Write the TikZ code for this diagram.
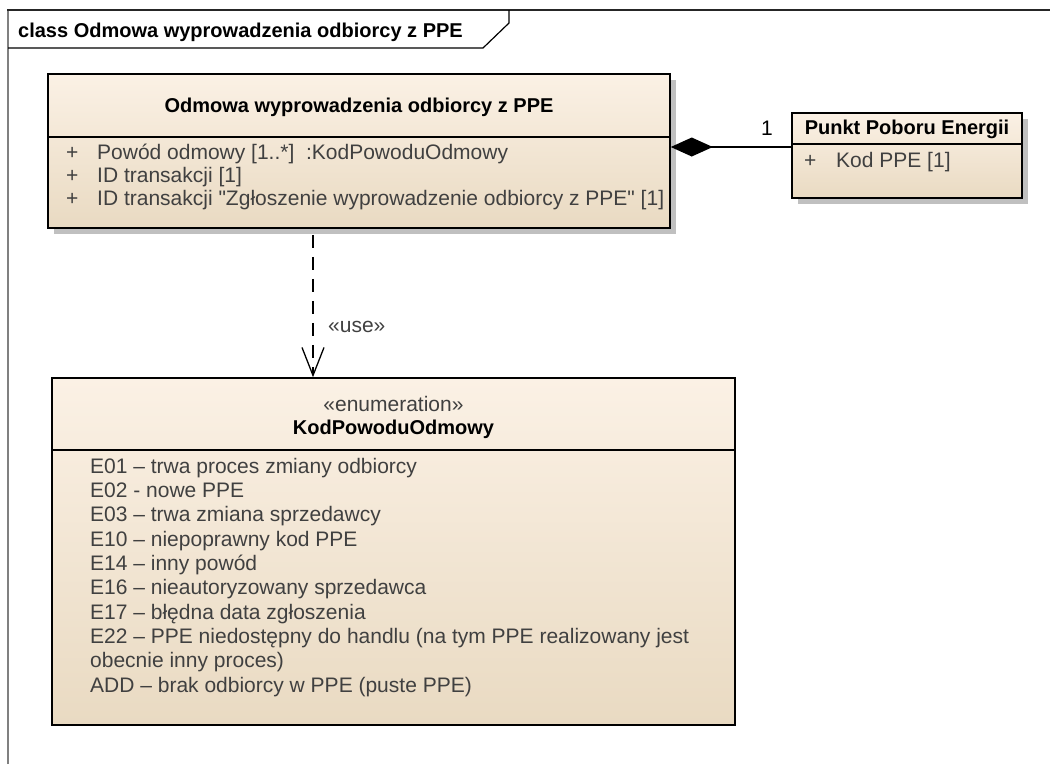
\documentclass[tikz,border=0pt]{standalone}
\usepackage{fontspec}
\setmainfont{Liberation Sans}
\usetikzlibrary{arrows.meta,shadows,calc}
\definecolor{boxtop}{RGB}{251,241,229}
\definecolor{boxbot}{RGB}{233,218,194}
\definecolor{txtgray}{RGB}{64,64,64}
\definecolor{shadowgray}{RGB}{192,192,192}
\newcommand\attrfont{\fontsize{21}{23}\selectfont}
\newcommand\namefont{\fontsize{20}{23}\selectfont\bfseries}

\begin{document}
\begin{tikzpicture}[x=1pt,y=-1pt,
  classbox/.style={draw=black,line width=1.5pt,top color=boxtop,bottom color=boxbot,inner sep=0pt},
  shadowed/.style={drop shadow={shadow xshift=6pt,shadow yshift=-6pt,fill=shadowgray,opacity=1}},
  sepline/.style={line width=1.2pt},
  attr/.style={anchor=base west,inner sep=0pt,text=txtgray,font=\attrfont},
  title/.style={inner sep=0pt,text=black,font=\namefont},
  comp/.style={line width=1.5pt,-{Diamond[length=42pt,width=19pt,fill=black]}},
  dep/.style={line width=1.3pt,dash pattern=on 13pt off 9pt,-{Straight Barb[length=28pt,width=22pt]}}]
\useasboundingbox (0,0) rectangle (1050,764);

% frame
\draw[gray,line width=2pt] (8,764) -- (8,10);
\draw[black!85,line width=2pt] (7,10) -- (1050,10);
\draw[line width=1.2pt] (8,48) -- (483,48) -- (509,23) -- (509,10);
\node[title,anchor=base west] (frame) at (18,37) {class Odmowa wyprowadzenia odbiorcy z PPE};

% classes
\node[classbox,shadowed,minimum width=622pt,minimum height=154pt] (odm) at (359,151) {};
\node[classbox,shadowed,minimum width=230pt,minimum height=85pt] (ppe) at (907,155.5) {};
\node[classbox,minimum width=683pt,minimum height=347pt] (enum) at (393.5,551.5) {};

\draw[sepline] (odm.west |- 0,137) -- (odm.east |- 0,137);
\draw[sepline] (ppe.west |- 0,144) -- (ppe.east |- 0,144);
\draw[sepline] (enum.west |- 0,450) -- (enum.east |- 0,450);

\node[title] (odmname) at (359,107) {Odmowa wyprowadzenia odbiorcy z PPE};
\foreach \t [count=\i] in {{Powód odmowy [1..*]\ \ :KodPowoduOdmowy},{ID transakcji [1]},{ID transakcji \textquotedbl Zgłoszenie wyprowadzenie odbiorcy z PPE\textquotedbl\ [1]}}{
  \node[attr] (odmplus\i) at (66,136+23*\i) {+};
  \node[attr] (odmattr\i) at (97,136+23*\i) {\t};
}

\node[title] (ppename) at (907,129) {Punkt Poboru Energii};
\node[attr] (ppeplus) at (804,167) {+};
\node[attr] (ppeattr) at (836,167) {Kod PPE [1]};

\node[inner sep=0pt,text=txtgray,font=\attrfont] (enumstereo) at (393.5,404) {«enumeration»};
\node[title] (enumname) at (393.5,429) {KodPowoduOdmowy};
\foreach \t [count=\i] in {{E01 – trwa proces zmiany odbiorcy},{E02 - nowe PPE},{E03 – trwa zmiana sprzedawcy},
  {E10 – niepoprawny kod PPE},{E14 – inny powód},{E16 – nieautoryzowany sprzedawca},{E17 – błędna data zgłoszenia},
  {E22 – PPE niedostępny do handlu (na tym PPE realizowany jest},{obecnie inny proces)},{ADD – brak odbiorcy w PPE (puste PPE)}}{
  \node[attr] (item\i) at (90,449+24.3*\i) {\t};
}

% connectors
\coordinate (cy) at (0,147);
\draw[comp] (ppe.west |- cy) -- (odm.east |- cy);
\node[inner sep=0pt,font=\attrfont,anchor=base] (mult) at (767,135) {1};
\draw[dep] ($(odm.south)+(-46,6)$) -- ($(enum.north)+(-80.5,0)$);
\node[attr] (uselbl) at (328,332) {«use»};
\end{tikzpicture}
\end{document}
